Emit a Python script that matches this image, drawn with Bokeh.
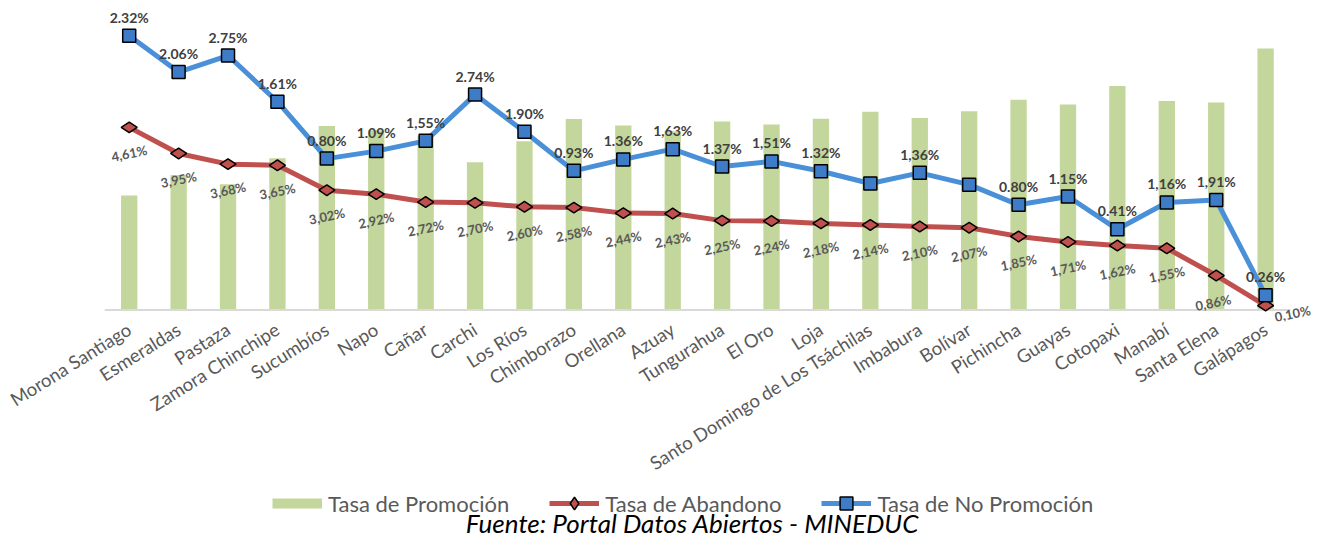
import math
from bokeh.plotting import figure
from bokeh.layouts import column
from bokeh.models import (ColumnDataSource, Range1d, LabelSet, Legend, LegendItem, Label,
                          FixedTicker)
from bokeh.core.properties import value
from bokeh.embed import file_html
from bokeh.resources import INLINE

provincias = ["Morona Santiago", "Esmeraldas", "Pastaza", "Zamora Chinchipe", "Sucumbíos",
              "Napo", "Cañar", "Carchi", "Los Ríos", "Chimborazo", "Orellana", "Azuay",
              "Tungurahua", "El Oro", "Loja", "Santo Domingo de Los Tsáchilas", "Imbabura",
              "Bolívar", "Pichincha", "Guayas", "Cotopaxi", "Manabí", "Santa Elena", "Galápagos"]

tasa_promocion = [93.07, 93.99, 93.57, 94.74, 96.18, 95.99, 95.73, 94.56, 95.50, 96.49, 96.20, 95.94,
                  96.38, 96.25, 96.50, 96.81, 96.54, 96.84, 97.35, 97.14, 97.97, 97.29, 97.23, 99.64]

tasa_abandono = [4.61, 3.95, 3.68, 3.65, 3.02, 2.92, 2.72, 2.70, 2.60, 2.58, 2.44, 2.43,
                 2.25, 2.24, 2.18, 2.14, 2.10, 2.07, 1.85, 1.71, 1.62, 1.55, 0.86, 0.10]

tasa_no_promocion = [2.32, 2.06, 2.75, 1.61, 0.80, 1.09, 1.55, 2.74, 1.90, 0.93, 1.36, 1.63,
                     1.37, 1.51, 1.32, 1.05, 1.36, 1.09, 0.80, 1.15, 0.41, 1.16, 1.91, 0.26]

etiquetas_abandono = ["4,61%", "3,95%", "3,68%", "3,65%", "3,02%", "2,92%", "2,72%", "2,70%",
                      "2,60%", "2,58%", "2,44%", "2,43%", "2,25%", "2,24%", "2,18%", "2,14%",
                      "2,10%", "2,07%", "1,85%", "1,71%", "1,62%", "1,55%", "0,86%", "0,10%"]

etiquetas_no_promocion = ["2.32%", "2.06%", "2.75%", "1.61%", "0.80%", "1.09%", "1,55%", "2.74%",
                          "1.90%", "0.93%", "1.36%", "1,63%", "1.37%", "1,51%", "1.32%", "",
                          "1,36%", "", "0.80%", "1.15%", "0.41%", "1,16%", "1,91%", "0.26%"]

series_nombres = ["Tasa de Promoción", "Tasa de Abandono", "Tasa de No Promoción"]
fuente = "Fuente: Portal Datos Abiertos - MINEDUC"

# label nudges (screen px) for the abandono labels
ab_dx = [0] * 22 + [-3, 27]
ab_dy = [-26] * 22 + [-27, -8]

n = len(provincias)
idx = list(range(n))
# stacked line: No Promoción stacked on Abandono
acumulado = [a + b for a, b in zip(tasa_abandono, tasa_no_promocion)]

src = ColumnDataSource(dict(x=idx, prov=provincias, promo=tasa_promocion, ab=tasa_abandono,
                            acum=acumulado, lab_ab=etiquetas_abandono,
                            lab_np=etiquetas_no_promocion, dx=ab_dx, dy=ab_dy))

FONT = "Lato"
GREEN, RED, BLUE, BLUE_M = "#C3D69B", "#C0504D", "#4A90D9", "#3E7CC7"
W = 1320
H1, H2 = 489, 50
LEFT, TOP, BOTTOM = 104, 4, 168
frame_h = H1 - TOP - BOTTOM
px_ab = 39.5      # px per percentage point (lines)
px_pr = 22.37     # px per percentage point (bars)
below_zero = 12   # px of frame below the zero line
y0 = -below_zero / px_ab
promo_base = 87.93
promo_start = promo_base - (below_zero - 1) / px_pr
x_start, x_end = -0.5, n + 0.05
frame_w = (x_end - x_start) * 49.4
RIGHT = max(0, int(W - LEFT - frame_w))

p = figure(x_range=Range1d(x_start, x_end), y_range=Range1d(y0, y0 + frame_h / px_ab),
           width=W, height=H1, output_backend="svg", toolbar_location=None,
           min_border_left=LEFT, min_border_right=RIGHT,
           min_border_top=TOP, min_border_bottom=BOTTOM)
p.extra_y_ranges = {"promo": Range1d(promo_start, promo_start + frame_h / px_pr)}
p.outline_line_color = None
p.xgrid.grid_line_color = None
p.ygrid.grid_line_color = None
p.yaxis.visible = False

p.vbar(x="x", top="promo", bottom=promo_base, width=0.33, source=src,
       y_range_name="promo", fill_color=GREEN, line_color=None)

# category axis baseline
p.segment(x0=[-0.5], x1=[n - 0.5], y0=[-0.5 / px_ab], y1=[-0.5 / px_ab],
          line_color="#D9D9D9", line_width=2)

p.line(x="x", y="ab", source=src, line_color=RED, line_width=5)
p.scatter(x="x", y="ab", source=src, marker="diamond", size=16, angle=math.pi / 2,
          fill_color=RED, line_color="black", line_width=1.5)

p.line(x="x", y="acum", source=src, line_color=BLUE, line_width=5)
p.scatter(x="x", y="acum", source=src, marker="square", size=13,
          fill_color=BLUE_M, line_color="black", line_width=1.5)

p.add_layout(LabelSet(x="x", y="acum", text="lab_np", source=src, y_offset=10,
                      text_align="center", text_baseline="bottom", text_font=value(FONT),
                      text_font_style="bold", text_font_size="14px", text_color="#404040"))
p.add_layout(LabelSet(x="x", y="ab", text="lab_ab", source=src, x_offset="dx", y_offset="dy",
                      angle=0.2, text_align="center", text_baseline="middle",
                      text_font=value(FONT), text_font_style="bold", text_font_size="13px",
                      text_color="#595959"))

ax = p.xaxis[0]
ax.ticker = FixedTicker(ticks=idx)
ax.major_label_overrides = {i: name for i, name in zip(idx, provincias)}
ax.major_label_orientation = 0.56
ax.major_tick_line_color = None
ax.minor_tick_line_color = None
ax.axis_line_color = None
ax.major_label_text_font = FONT
ax.major_label_text_font_size = "18.5px"
ax.major_label_text_color = "#595959"
ax.major_label_standoff = 0

# ---- legend + source strip (frame aligned with the chart's frame) ----
q = figure(x_range=Range1d(LEFT, W - RIGHT), y_range=Range1d(0, H2), width=W, height=H2,
           output_backend="svg", toolbar_location=None, x_axis_location=None,
           y_axis_location=None, min_border_left=LEFT, min_border_right=RIGHT,
           min_border_top=0, min_border_bottom=0)
q.outline_line_color = None
q.xgrid.grid_line_color = None
q.ygrid.grid_line_color = None
# legend-only renderers: same data, mapped to an x range far outside the view
q.extra_x_ranges = {"off": Range1d(-1000, -999)}
g1 = q.line(x="x", y="promo", source=src, x_range_name="off", line_color=GREEN,
            line_width=10, line_cap="butt")
g2 = q.line(x="x", y="ab", source=src, x_range_name="off", line_color=RED, line_width=5)
g2m = q.scatter(x="x", y="ab", source=src, x_range_name="off", marker="diamond", size=16,
                fill_color=RED, line_color="black", line_width=1.5)
g3 = q.line(x="x", y="acum", source=src, x_range_name="off", line_color=BLUE, line_width=5)
g3m = q.scatter(x="x", y="acum", source=src, x_range_name="off", marker="square", size=13,
                fill_color=BLUE_M, line_color="black", line_width=1.5)

legend = Legend(items=[LegendItem(label=series_nombres[0], renderers=[g1]),
                       LegendItem(label=series_nombres[1], renderers=[g2, g2m]),
                       LegendItem(label=series_nombres[2], renderers=[g3, g3m])],
                orientation="horizontal", location=(272 - LEFT, 20), glyph_width=50,
                glyph_height=32, label_text_font=FONT, label_text_font_size="22px",
                label_text_color="#595959", spacing=40, label_standoff=6,
                border_line_color=None, padding=0, margin=0, background_fill_alpha=0)
q.add_layout(legend, "center")
q.add_layout(Label(x=692, y=16.5, text=fuente, text_align="center", text_baseline="middle",
                   text_font=FONT, text_font_style="italic", text_font_size="26px",
                   text_color="black"))

open("out.html", "w").write(file_html(column(p, q, spacing=0), INLINE))
